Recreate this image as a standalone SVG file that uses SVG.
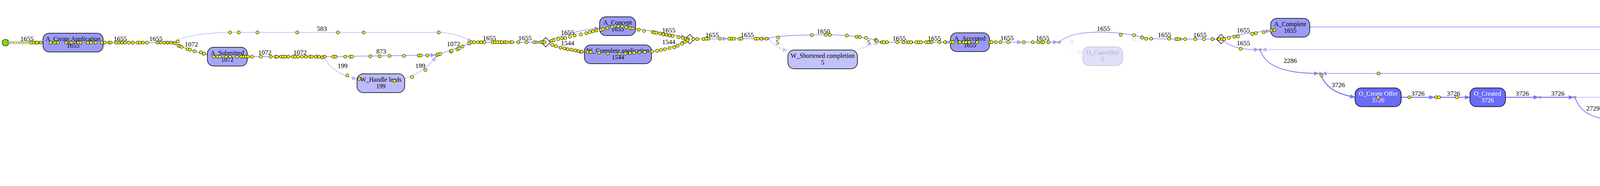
<svg xmlns="http://www.w3.org/2000/svg" width="7419" height="476" viewBox="0 0 7419 476">
<style>
text{font-family:"Liberation Serif","Times New Roman",serif;text-anchor:middle;fill:#000}
.el{font-size:17px}
.nt{font-size:16px}
.wt{fill:#fff}
.box{stroke:#000;stroke-width:1.5}
.e{fill:none}
.c1{stroke:#9e9ef9;stroke-width:2}
.c2{stroke:#b6b6fb;stroke-width:1.5}
.c3{stroke:#8888f8;stroke-width:2.3}
.c4{stroke:#7474f7;stroke-width:2.6}
.c5{stroke:#c6c6fc;stroke-width:1.3}
.c6{stroke:#0000ee;stroke-width:4.5}
.c7{stroke:#eeeefe;stroke-width:1}
.jn{fill:#fff;stroke:#000;stroke-width:1}
.gw{fill:#fff;stroke:#000;stroke-width:1.3}
.tk{fill:#ffff00;stroke:#000;stroke-width:1}
.tf{fill:#ffff00;stroke:#000;stroke-width:1;opacity:0.35}
.fd{fill:#d4d4d4}
</style>
<defs>
<marker id="a1" markerUnits="userSpaceOnUse" viewBox="0 0 12 10" refX="12" refY="5" markerWidth="13" markerHeight="11" orient="auto"><path d="M0,0 L12,5 L0,10 z" fill="#9e9ef9"/></marker>
<marker id="a2" markerUnits="userSpaceOnUse" viewBox="0 0 12 10" refX="12" refY="5" markerWidth="13" markerHeight="11" orient="auto"><path d="M0,0 L12,5 L0,10 z" fill="#b6b6fb"/></marker>
<marker id="a3" markerUnits="userSpaceOnUse" viewBox="0 0 12 10" refX="12" refY="5" markerWidth="13" markerHeight="11" orient="auto"><path d="M0,0 L12,5 L0,10 z" fill="#8888f8"/></marker>
<marker id="a4" markerUnits="userSpaceOnUse" viewBox="0 0 12 10" refX="12" refY="5" markerWidth="13" markerHeight="11" orient="auto"><path d="M0,0 L12,5 L0,10 z" fill="#7474f7"/></marker>
<marker id="a5" markerUnits="userSpaceOnUse" viewBox="0 0 12 10" refX="12" refY="5" markerWidth="13" markerHeight="11" orient="auto"><path d="M0,0 L12,5 L0,10 z" fill="#c6c6fc"/></marker>
<marker id="a6" markerUnits="userSpaceOnUse" viewBox="0 0 12 10" refX="12" refY="5" markerWidth="16" markerHeight="13" orient="auto"><path d="M0,0 L12,5 L0,10 z" fill="#0000ee"/></marker>
<marker id="a7" markerUnits="userSpaceOnUse" viewBox="0 0 12 10" refX="12" refY="5" markerWidth="13" markerHeight="11" orient="auto"><path d="M0,0 L12,5 L0,10 z" fill="#eeeefe"/></marker>
</defs>

<g id="connectors">
<path class="e c1" marker-end="url(#a1)" d="M23,109 L110,109"/>
<path class="e c1" marker-end="url(#a1)" d="M264,109 L349,109"/>
<path class="e c1" marker-end="url(#a1)" d="M355,109 L440,109"/>
<path class="e c2" marker-end="url(#a2)" d="M445,107 C475,90 540,83 589,83 L1123,83 C1160,83 1185,95 1210,107"/>
<path class="e c1" marker-end="url(#a1)" d="M445,111 C470,122 500,134 531,140"/>
<path class="e c1" marker-end="url(#a1)" d="M633,145 L719,145"/>
<path class="e c1" marker-end="url(#a1)" d="M725,145 L824,145"/>
<path class="e c1" marker-end="url(#a1)" d="M830,145 L1115,141"/>
<path class="e c2" marker-end="url(#a2)" d="M829,147 C845,175 875,195 914,202"/>
<path class="e c2" marker-end="url(#a2)" d="M1036,201 C1070,190 1100,170 1116,144"/>
<path class="e c1" marker-end="url(#a1)" d="M1120,140 C1150,130 1180,118 1210,109"/>
<path class="e c1" marker-end="url(#a1)" d="M1216,108 L1295,108"/>
<path class="e c1" marker-end="url(#a1)" d="M1301,108 L1385,108"/>
<path class="e c1" marker-end="url(#a1)" d="M1406,104 C1440,88 1490,76 1535,72"/>
<path class="e c1" marker-end="url(#a1)" d="M1406,112 C1440,126 1470,132 1496,134"/>
<path class="e c1" marker-end="url(#a1)" d="M1627,74 C1680,80 1730,90 1756,96"/>
<path class="e c1" marker-end="url(#a1)" d="M1668,132 C1710,126 1735,115 1756,104"/>
<path class="e c1" marker-end="url(#a1)" d="M1778,100 L1863,99"/>
<path class="e c1" marker-end="url(#a1)" d="M1869,99 L1963,99"/>
<path class="e c1" marker-end="url(#a1)" d="M1968,97 C2000,91 2050,89 2110,89 C2170,89 2220,96 2252,106"/>
<path class="e c5" marker-end="url(#a5)" d="M1968,101 C1980,115 1995,125 2017,130"/>
<path class="e c5" marker-end="url(#a5)" d="M2195,128 C2215,120 2235,113 2252,109"/>
<path class="e c1" marker-end="url(#a1)" d="M2258,108 L2332,108"/>
<path class="e c1" marker-end="url(#a1)" d="M2338,108 L2433,108"/>
<path class="e c1" marker-end="url(#a1)" d="M2533,108 L2617,108"/>
<path class="e c1" marker-end="url(#a1)" d="M2623,108 L2709,108"/>
<path class="e c1" marker-end="url(#a1)" d="M2714,106 C2740,85 2780,82 2825,82 C2870,84 2900,88 2932,98"/>
<path class="e c7" marker-end="url(#a7)" d="M2714,110 C2735,122 2750,130 2772,134"/>
<path class="e c7" marker-end="url(#a7)" d="M2874,125 C2895,115 2915,105 2932,100"/>
<path class="e c1" marker-end="url(#a1)" d="M2938,99 L3021,100"/>
<path class="e c1" marker-end="url(#a1)" d="M3027,100 L3114,100"/>
<path class="e c1" marker-end="url(#a1)" d="M3136,96 C3170,88 3210,82 3253,79"/>
<path class="e c1" marker-end="url(#a1)" d="M3134,106 C3150,118 3170,127 3223,127"/>
<path class="e c1" marker-end="url(#a1)" d="M3353,69 L6372,69 C6410,69 6430,78 6451,86"/>
<path class="e c2" marker-end="url(#a2)" d="M6358,127 L3229,127"/>
<path class="e c3" marker-end="url(#a3)" d="M3227,130 C3240,170 3290,188 3377,188"/>
<path class="e c1" marker-end="url(#a1)" d="M5006,204 C4985,191 4960,188 4920,188 L3383,188"/>
<path class="e c4" marker-end="url(#a4)" d="M3381,191 C3395,225 3420,240 3469,249"/>
<path class="e c4" marker-end="url(#a4)" d="M3587,249 L3672,249"/>
<path class="e c4" marker-end="url(#a4)" d="M3678,249 L3763,249"/>
<path class="e c4" marker-end="url(#a4)" d="M3854,249 L3939,249"/>
<path class="e c4" marker-end="url(#a4)" d="M3945,249 L4029,249"/>
<path class="e c3" marker-end="url(#a3)" d="M4033,252 C4045,285 4070,300 4127,309"/>
<path class="e c2" marker-end="url(#a2)" d="M4035,249 L4904,249"/>
<path class="e c3" marker-end="url(#a3)" d="M4151,311 L4272,311"/>
<path class="e c3" marker-end="url(#a3)" d="M4143,320 C4160,350 4190,368 4242,368"/>
<path class="e c1" marker-end="url(#a1)" d="M4248,368 L4691,368"/>
<path class="e c1" marker-end="url(#a1)" d="M4247,371 C4260,400 4280,414 4330,430 C4380,445 4420,446 4469,446"/>
<path class="e c1" marker-end="url(#a1)" d="M4607,432 C4650,420 4680,400 4692,371"/>
<path class="e c3" marker-end="url(#a3)" d="M4444,311 L4784,310"/>
<path class="e c3" marker-end="url(#a3)" d="M4697,367 C4740,360 4772,342 4789,318"/>
<path class="e c3" marker-end="url(#a3)" d="M4806,306 C4850,295 4885,280 4905,252"/>
<path class="e c4" marker-end="url(#a4)" d="M4910,248 C4950,240 4985,225 5007,208"/>
<path class="e c3" marker-end="url(#a3)" d="M5012,205 L5097,205"/>
<path class="e c3" marker-end="url(#a3)" d="M5103,205 L5187,205"/>
<path class="e c5" marker-end="url(#a5)" d="M5193,203 C5220,190 5250,184 5300,184 L6268,184"/>
<path class="e c1" marker-end="url(#a1)" d="M5192,208 C5210,225 5240,240 5278,251"/>
<path class="e c6" style="stroke-width:3.5" marker-end="url(#a6)" d="M6177,252 L5284,252"/>
<path class="e c6" marker-end="url(#a6)" d="M5282,255 C5300,300 5330,325 5369,347"/>
<path class="e c3" marker-end="url(#a3)" d="M5375,348 C5420,335 5540,322 5649,315"/>
<path class="e c3" marker-end="url(#a3)" d="M5375,351 C5390,362 5420,370 5460,373"/>
<path class="e c4" marker-end="url(#a4)" d="M5373,352 C5380,385 5410,415 5460,430"/>
<path class="e c3" marker-end="url(#a3)" d="M5746,310 C5850,300 5980,305 6086,341"/>
<path class="e c3" marker-end="url(#a3)" d="M5625,374 L5786,374"/>
<path class="e c3" marker-end="url(#a3)" d="M5792,374 L5893,374"/>
<path class="e c4" marker-end="url(#a4)" d="M5624,447 L5786,447"/>
<path class="e c4" marker-end="url(#a4)" d="M5792,447 L5897,447"/>
<path class="e c3" marker-end="url(#a3)" d="M6001,364 C6040,358 6065,352 6086,344"/>
<path class="e c4" marker-end="url(#a4)" d="M5997,426 C6040,405 6070,380 6087,346"/>
<path class="e c6" marker-end="url(#a6)" d="M6091,341 C6120,320 6150,290 6178,255"/>
<path class="e c1" marker-end="url(#a1)" d="M6183,251 C6220,240 6250,215 6269,186"/>
<path class="e c3" marker-end="url(#a3)" d="M6273,182 C6310,175 6340,160 6359,130"/>
<path class="e c1" marker-end="url(#a1)" d="M6364,126 C6400,118 6430,106 6452,96"/>
<path class="e c1" marker-end="url(#a1)" d="M6474,90 L6560,90"/>
<path class="e c1" marker-end="url(#a1)" d="M6566,90 L6650,90"/>
<path class="e c1" marker-end="url(#a1)" d="M6655,88 C6670,65 6700,48 6742,40"/>
<path class="e c5" marker-end="url(#a5)" d="M6656,90 L6867,90"/>
<path class="e c2" marker-end="url(#a2)" d="M6656,91 C6720,115 6800,130 6900,138 L7021,147"/>
<path class="e c1" marker-end="url(#a1)" d="M6842,29 L6991,29"/>
<path class="e c1" marker-end="url(#a1)" d="M6997,29 L7129,29"/>
<path class="e c1" marker-end="url(#a1)" d="M7218,45 C7250,60 7280,75 7302,88"/>
<path class="e c5" marker-end="url(#a5)" d="M6968,90 L7302,90"/>
<path class="e c2" marker-end="url(#a2)" d="M7105,147 C7180,145 7260,125 7302,93"/>
<path class="e c1" marker-end="url(#a1)" d="M7308,90 L7394,90"/>
</g>

<g id="edge-labels" class="el">
<text class="el" x="69" y="105">1655</text>
<text class="el" x="308" y="105">1655</text>
<text class="el" x="399" y="105">1655</text>
<text class="el" x="824" y="79">583</text>
<text class="el" x="490" y="119">1072</text>
<text class="el" x="678" y="140">1072</text>
<text class="el" x="768" y="140">1072</text>
<text class="el" x="976" y="137">873</text>
<text class="el" x="877" y="174">199</text>
<text class="el" x="1076" y="174">199</text>
<text class="el" x="1161" y="118">1072</text>
<text class="el" x="1253" y="103">1655</text>
<text class="el" x="1344" y="103">1655</text>
<text class="el" x="1453" y="89">1655</text>
<text class="el" x="1453" y="116">1544</text>
<text class="el" x="1712" y="83">1655</text>
<text class="el" x="1712" y="113">1544</text>
<text class="el" x="1823" y="95">1655</text>
<text class="el" x="1913" y="95">1655</text>
<text class="el" x="2108" y="86">1650</text>
<text class="el" x="1990" y="114">5</text>
<text class="el" x="2224" y="114">5</text>
<text class="el" x="2302" y="104">1655</text>
<text class="el" x="2392" y="104">1655</text>
<text class="el" x="2578" y="103">1655</text>
<text class="el" x="2669" y="103">1655</text>
<text class="el" x="2825" y="79">1655</text>
<text class="el fd" x="2744" y="113">0</text>
<text class="el fd" x="2903" y="106">0</text>
<text class="el" x="2981" y="95">1655</text>
<text class="el" x="3072" y="95">1655</text>
<text class="el" x="3183" y="83">1655</text>
<text class="el" x="3183" y="116">1655</text>
<text class="el" x="4967" y="64">1655</text>
<text class="el" x="4940" y="122">631</text>
<text class="el" x="3303" y="161">2286</text>
<text class="el" x="4140" y="183">1440</text>
<text class="el" x="3426" y="223">3726</text>
<text class="el" x="3630" y="245">3726</text>
<text class="el" x="3721" y="245">3726</text>
<text class="el" x="3897" y="245">3726</text>
<text class="el" x="3988" y="245">3726</text>
<text class="el" x="4078" y="283">2729</text>
<text class="el" x="4538" y="244">997</text>
<text class="el" x="4200" y="306">2729</text>
<text class="el" x="4200" y="355">2729</text>
<text class="el" x="4539" y="363">1101</text>
<text class="el" x="4359" y="402">1628</text>
<text class="el" x="4651" y="402">1628</text>
<text class="el" x="4650" y="306">2729</text>
<text class="el" x="4740" y="344">2729</text>
<text class="el" x="4851" y="283">2729</text>
<text class="el" x="4966" y="223">3726</text>
<text class="el" x="5055" y="201">2286</text>
<text class="el" x="5146" y="201">2286</text>
<text class="el" x="5791" y="179">16</text>
<text class="el" x="5237" y="218">2270</text>
<text class="el" x="5790" y="247">6160</text>
<text class="el" x="5327" y="285">8430</text>
<text class="el" x="5418" y="331">2201</text>
<text class="el" x="5418" y="358">2485</text>
<text class="el" x="5418" y="389">3744</text>
<text class="el" x="5851" y="302">2201</text>
<text class="el" x="5698" y="369">2485</text>
<text class="el" x="5851" y="369">2485</text>
<text class="el" x="5698" y="441">3744</text>
<text class="el" x="5851" y="441">3744</text>
<text class="el" x="6044" y="347">2485</text>
<text class="el" x="6044" y="379">3744</text>
<text class="el" x="6136" y="285">8430</text>
<text class="el" x="6226" y="218">2270</text>
<text class="el" x="6317" y="160">2286</text>
<text class="el" x="6409" y="103">1655</text>
<text class="el" x="6519" y="86">1655</text>
<text class="el" x="6610" y="86">1655</text>
<text class="el" x="6701" y="44">1461</text>
<text class="el" x="6699" y="86">44</text>
<text class="el" x="6793" y="111">150</text>
<text class="el" x="6919" y="25">1461</text>
<text class="el" x="7065" y="25">1461</text>
<text class="el" x="7264" y="50">1461</text>
<text class="el" x="7064" y="86">44</text>
<text class="el" x="7175" y="129">150</text>
<text class="el" x="7354" y="86">1655</text>
</g>

<g id="junctions">
<circle class="jn" cx="352" cy="109" r="2.5"/>
<circle class="jn" cx="443" cy="109" r="2.5"/>
<circle class="jn" cx="722" cy="145" r="2.5"/>
<circle class="jn" cx="827" cy="145" r="2.5"/>
<circle class="jn" cx="1118" cy="141" r="2.5"/>
<circle class="jn" cx="1213" cy="108" r="2.5"/>
<circle class="jn" cx="1298" cy="108" r="2.5"/>
<circle class="jn" cx="1866" cy="99" r="2.5"/>
<circle class="jn" cx="1966" cy="99" r="2.5"/>
<circle class="jn" cx="2255" cy="108" r="2.5"/>
<circle class="jn" cx="2335" cy="108" r="2.5"/>
<circle class="jn" cx="2620" cy="108" r="2.5"/>
<circle class="jn" cx="2712" cy="108" r="2.5"/>
<circle class="jn" cx="2935" cy="99" r="2.5"/>
<circle class="jn" cx="3024" cy="100" r="2.5"/>
<circle class="jn" cx="3226" cy="127" r="2.5"/>
<circle class="jn" cx="3380" cy="188" r="2.5"/>
<circle class="jn" cx="3675" cy="249" r="2.5"/>
<circle class="jn" cx="3942" cy="249" r="2.5"/>
<circle class="jn" cx="4032" cy="249" r="2.5"/>
<circle class="jn" cx="4245" cy="368" r="2.5"/>
<circle class="jn" cx="4694" cy="368" r="2.5"/>
<circle class="jn" cx="4907" cy="249" r="2.5"/>
<circle class="jn" cx="5009" cy="205" r="2.5"/>
<circle class="jn" cx="5100" cy="205" r="2.5"/>
<circle class="jn" cx="5190" cy="205" r="2.5"/>
<circle class="jn" cx="5281" cy="252" r="2.5"/>
<circle class="jn" cx="5372" cy="349" r="2.5"/>
<circle class="jn" cx="5789" cy="374" r="2.5"/>
<circle class="jn" cx="5789" cy="447" r="2.5"/>
<circle class="jn" cx="6089" cy="343" r="2.5"/>
<circle class="jn" cx="6180" cy="252" r="2.5"/>
<circle class="jn" cx="6271" cy="184" r="2.5"/>
<circle class="jn" cx="6361" cy="127" r="2.5"/>
<circle class="jn" cx="6563" cy="90" r="2.5"/>
<circle class="jn" cx="6653" cy="90" r="2.5"/>
<circle class="jn" cx="6994" cy="29" r="2.5"/>
<circle class="jn" cx="7305" cy="90" r="2.5"/>
</g>

<g id="gateways">
<path class="gw" d="M1397,96 L1409,108 L1397,120 L1385,108 Z"/>
<path class="gw" d="M1766,88 L1778,100 L1766,112 L1754,100 Z"/>
<path class="gw" d="M3126,88 L3138,100 L3126,112 L3114,100 Z"/>
<g><path class="gw" d="M4139,299 L4151,311 L4139,323 L4127,311 Z"/><path d="M4133,311 H4145 M4139,305 V317" stroke="#000" stroke-width="1"/></g>
<g><path class="gw" d="M4796,298 L4808,310 L4796,322 L4784,310 Z"/><path d="M4790,310 H4802 M4796,304 V316" stroke="#000" stroke-width="1"/></g>
<g><path class="gw" d="M6462,78 L6474,90 L6462,102 L6450,90 Z"/><path d="M6456,90 H6468 M6462,84 V96" stroke="#000" stroke-width="1"/></g>
</g>

<g id="start"><circle cx="14" cy="109" r="8.5" fill="#7fe000" stroke="#000" stroke-width="1.2"/></g>
<g id="end"><circle cx="7403" cy="90" r="9" fill="#e00000" stroke="#000" stroke-width="1.2"/></g>

<g id="A_Create_Application"><rect class="box" x="110" y="85" width="154" height="48" rx="16" fill="#9b9bf7"/><text class="nt" x="187" y="105">A_Create Application</text><text class="nt" x="187" y="122">1655</text></g>
<g id="A_Submitted"><rect class="box" x="531" y="121" width="102" height="48" rx="16" fill="#a6a6f9"/><text class="nt" x="582" y="141">A_Submitted</text><text class="nt" x="582" y="158">1072</text></g>
<g id="W_Handle_leads"><rect class="box" x="914" y="189" width="122" height="48" rx="16" fill="#bbbbfb"/><text class="nt" x="975" y="209">W_Handle leads</text><text class="nt" x="975" y="226">199</text></g>
<g id="A_Concept"><rect class="box" x="1535" y="43" width="92" height="48" rx="16" fill="#9b9bf7"/><text class="nt" x="1581" y="63">A_Concept</text><text class="nt" x="1581" y="80">1655</text></g>
<g id="W_Complete_application"><rect class="box" x="1496" y="115" width="172" height="48" rx="16" fill="#9d9df7"/><text class="nt" x="1582" y="135">W_Complete application</text><text class="nt" x="1582" y="152">1544</text></g>
<g id="W_Shortened_completion"><rect class="box" x="2017" y="128" width="178" height="48" rx="16" fill="#c2c2fb"/><text class="nt" x="2106" y="148">W_Shortened completion</text><text class="nt" x="2106" y="165">5</text></g>
<g id="A_Accepted"><rect class="box" x="2433" y="84" width="100" height="48" rx="16" fill="#9b9bf7"/><text class="nt" x="2483" y="104">A_Accepted</text><text class="nt" x="2483" y="121">1655</text></g>
<g id="O_Cancelled"><rect x="2772" y="120" width="102" height="48" rx="16" fill="#e0e0fc" stroke="#c4c4c4" stroke-width="1.5"/><text class="nt fd" x="2823" y="140" style="fill:#b4b4b4">O_Cancelled</text><text class="nt" x="2823" y="157" style="fill:#b4b4b4">0</text></g>
<g id="A_Complete"><rect class="box" x="3253" y="47" width="100" height="48" rx="16" fill="#9b9bf7"/><text class="nt" x="3303" y="67">A_Complete</text><text class="nt" x="3303" y="84">1655</text></g>
<g id="O_Create_Offer"><rect class="box" x="3469" y="225" width="118" height="48" rx="16" fill="#6b6bf7"/><text class="nt wt" x="3528" y="245">O_Create Offer</text><text class="nt wt" x="3528" y="262">3726</text></g>
<g id="O_Created"><rect class="box" x="3763" y="225" width="91" height="48" rx="16" fill="#6b6bf7"/><text class="nt wt" x="3808" y="245">O_Created</text><text class="nt wt" x="3808" y="262">3726</text></g>
<g id="O_Sent"><rect class="box" x="4272" y="287" width="172" height="48" rx="16" fill="#8080f8"/><text class="nt" x="4358" y="307">O_Sent (mail and online)</text><text class="nt" x="4358" y="324">2729</text></g>
<g id="W_Call_after_offers"><rect class="box" x="4469" y="416" width="138" height="48" rx="16" fill="#9b9bf7"/><text class="nt" x="4538" y="436">W_Call after offers</text><text class="nt" x="4538" y="453">1628</text></g>
<g id="O_Returned"><rect class="box" x="5649" y="289" width="97" height="48" rx="16" fill="#8a8af8"/><text class="nt" x="5697" y="309">O_Returned</text><text class="nt" x="5697" y="326">2201</text></g>
<g id="W_Call_incomplete_files"><rect class="box" x="5460" y="351" width="165" height="48" rx="16" fill="#8484f8"/><text class="nt" x="5542" y="371">W_Call incomplete files</text><text class="nt" x="5542" y="388">2485</text></g>
<g id="W_Validate_application"><rect class="box" x="5460" y="423" width="164" height="48" rx="16" fill="#6b6bf7"/><text class="nt wt" x="5542" y="443">W_Validate application</text><text class="nt wt" x="5542" y="460">3744</text></g>
<g id="A_Incomplete"><rect class="box" x="5893" y="351" width="108" height="48" rx="16" fill="#8484f8"/><text class="nt" x="5947" y="371">A_Incomplete</text><text class="nt" x="5947" y="388">2485</text></g>
<g id="A_Validating"><rect class="box" x="5897" y="423" width="100" height="48" rx="16" fill="#6b6bf7"/><text class="nt wt" x="5947" y="443">A_Validating</text><text class="nt wt" x="5947" y="460">3744</text></g>
<g id="O_Accepted"><rect class="box" x="6742" y="5" width="100" height="48" rx="16" fill="#a0a0f8"/><text class="nt" x="6792" y="25">O_Accepted</text><text class="nt" x="6792" y="42">1461</text></g>
<g id="A_Pending"><rect class="box" x="7129" y="5" width="89" height="48" rx="16" fill="#a0a0f8"/><text class="nt" x="7173" y="25">A_Pending</text><text class="nt" x="7173" y="42">1461</text></g>
<g id="A_Cancelled"><rect class="box" x="6867" y="67" width="101" height="48" rx="16" fill="#bebefb"/><text class="nt" x="6917" y="87">A_Cancelled</text><text class="nt" x="6917" y="104">44</text></g>
<g id="A_Denied"><rect class="box" x="7021" y="123" width="84" height="48" rx="16" fill="#bcbcfb"/><text class="nt" x="7063" y="143">A_Denied</text><text class="nt" x="7063" y="160">150</text></g>

<g id="tokens">
<circle class="tf" cx="22" cy="109" r="4"/><circle class="tf" cx="30" cy="109" r="4"/><circle class="tf" cx="38" cy="109" r="4"/><circle class="tf" cx="46" cy="109" r="4"/><circle class="tf" cx="52" cy="109" r="4"/><circle class="tf" cx="58" cy="109" r="4"/><circle class="tf" cx="64" cy="109" r="4"/><circle class="tf" cx="70" cy="109" r="4"/>
<circle class="tk" cx="79" cy="109" r="4"/><circle class="tk" cx="86" cy="109" r="4"/><circle class="tk" cx="92" cy="109" r="4"/><circle class="tk" cx="95" cy="109" r="4"/><circle class="tk" cx="104" cy="109" r="4"/>
<circle class="tk" cx="130" cy="109" r="4"/><circle class="tk" cx="140" cy="109" r="4"/><circle class="tk" cx="148" cy="109" r="4"/><circle class="tk" cx="169" cy="109" r="4"/><circle class="tk" cx="180" cy="109" r="4"/><circle class="tk" cx="183" cy="109" r="4"/><circle class="tk" cx="200" cy="109" r="4"/><circle class="tk" cx="206" cy="109" r="4"/><circle class="tk" cx="225" cy="109" r="4"/><circle class="tk" cx="233" cy="109" r="4"/><circle class="tk" cx="245" cy="109" r="4"/><circle class="tk" cx="261" cy="109" r="4"/><circle class="tk" cx="269" cy="109" r="4"/><circle class="tk" cx="280" cy="109" r="4"/><circle class="tk" cx="283" cy="109" r="4"/>
<circle class="tk" cx="297" cy="109" r="4"/><circle class="tk" cx="304" cy="109" r="4"/><circle class="tk" cx="312" cy="109" r="4"/><circle class="tk" cx="320" cy="109" r="4"/><circle class="tk" cx="330" cy="109" r="4"/><circle class="tk" cx="340" cy="109" r="4"/><circle class="tk" cx="352" cy="109" r="4"/><circle class="tk" cx="358" cy="109" r="4"/><circle class="tk" cx="366" cy="109" r="4"/><circle class="tk" cx="376" cy="109" r="4"/><circle class="tk" cx="403" cy="109" r="4"/><circle class="tk" cx="411" cy="109" r="4"/><circle class="tk" cx="421" cy="109" r="4"/><circle class="tk" cx="429" cy="109" r="4"/><circle class="tk" cx="437" cy="109" r="4"/>
<circle class="tk" cx="447" cy="111" r="4"/><circle class="tk" cx="457" cy="117" r="4"/><circle class="tk" cx="461" cy="118" r="4"/><circle class="tk" cx="465" cy="120" r="4"/><circle class="tk" cx="480" cy="126" r="4"/><circle class="tk" cx="486" cy="127" r="4"/><circle class="tk" cx="498" cy="131" r="4"/><circle class="tk" cx="514" cy="134" r="4"/><circle class="tk" cx="522" cy="137" r="4"/>
<circle class="tk" cx="455" cy="106" r="4"/><circle class="tk" cx="589" cy="83" r="4"/><circle class="tk" cx="611" cy="83" r="4"/><circle class="tk" cx="659" cy="83" r="4"/><circle class="tk" cx="761" cy="83" r="4"/><circle class="tk" cx="865" cy="83" r="4"/><circle class="tk" cx="931" cy="83" r="4"/><circle class="tk" cx="1123" cy="83" r="4"/>
<circle class="tk" cx="547" cy="145" r="4"/><circle class="tk" cx="557" cy="145" r="4"/><circle class="tk" cx="563" cy="145" r="4"/><circle class="tk" cx="579" cy="145" r="4"/><circle class="tk" cx="589" cy="145" r="4"/><circle class="tk" cx="607" cy="145" r="4"/><circle class="tk" cx="618" cy="145" r="4"/><circle class="tk" cx="624" cy="145" r="4"/><circle class="tk" cx="630" cy="145" r="4"/><circle class="tk" cx="635" cy="145" r="4"/><circle class="tk" cx="645" cy="145" r="4"/><circle class="tk" cx="668" cy="145" r="4"/><circle class="tk" cx="693" cy="145" r="4"/><circle class="tk" cx="705" cy="145" r="4"/><circle class="tk" cx="709" cy="145" r="4"/><circle class="tk" cx="719" cy="145" r="4"/><circle class="tk" cx="725" cy="145" r="4"/><circle class="tk" cx="730" cy="145" r="4"/><circle class="tk" cx="738" cy="145" r="4"/><circle class="tk" cx="750" cy="145" r="4"/><circle class="tk" cx="756" cy="145" r="4"/><circle class="tk" cx="763" cy="145" r="4"/><circle class="tk" cx="773" cy="145" r="4"/><circle class="tk" cx="783" cy="145" r="4"/><circle class="tk" cx="793" cy="145" r="4"/><circle class="tk" cx="798" cy="145" r="4"/><circle class="tk" cx="808" cy="145" r="4"/><circle class="tk" cx="817" cy="145" r="4"/><circle class="tk" cx="825" cy="147" r="4"/><circle class="tk" cx="831" cy="145" r="4"/><circle class="tk" cx="853" cy="145" r="4"/><circle class="tk" cx="859" cy="145" r="4"/><circle class="tk" cx="884" cy="145" r="4"/><circle class="tk" cx="897" cy="145" r="4"/><circle class="tk" cx="901" cy="145" r="4"/><circle class="tk" cx="948" cy="144" r="4"/><circle class="tk" cx="972" cy="144" r="4"/><circle class="tk" cx="997" cy="143" r="4"/><circle class="tk" cx="1034" cy="143" r="4"/><circle class="tk" cx="1072" cy="142" r="4"/><circle class="tk" cx="1077" cy="142" r="4"/><circle class="tk" cx="1094" cy="142" r="4"/>
<circle class="tk" cx="889" cy="193" r="4"/><circle class="tk" cx="920" cy="202" r="4"/><circle class="tk" cx="1010" cy="207" r="4"/><circle class="tk" cx="1055" cy="197" r="4"/><circle class="tk" cx="1089" cy="179" r="4"/>
<circle class="tk" cx="1118" cy="141" r="4"/><circle class="tk" cx="1122" cy="139" r="4"/><circle class="tk" cx="1127" cy="138" r="4"/><circle class="tk" cx="1154" cy="132" r="4"/><circle class="tk" cx="1156" cy="130" r="4"/><circle class="tk" cx="1171" cy="126" r="4"/><circle class="tk" cx="1175" cy="124" r="4"/><circle class="tk" cx="1184" cy="119" r="4"/><circle class="tk" cx="1201" cy="111" r="4"/><circle class="tk" cx="1207" cy="108" r="4"/><circle class="tk" cx="1214" cy="108" r="4"/>
<circle class="tk" cx="1224" cy="108" r="4"/><circle class="tk" cx="1232" cy="108" r="4"/><circle class="tk" cx="1240" cy="108" r="4"/><circle class="tk" cx="1261" cy="108" r="4"/><circle class="tk" cx="1267" cy="108" r="4"/><circle class="tk" cx="1273" cy="108" r="4"/><circle class="tk" cx="1279" cy="108" r="4"/><circle class="tk" cx="1285" cy="108" r="4"/><circle class="tk" cx="1293" cy="108" r="4"/><circle class="tk" cx="1297" cy="108" r="4"/><circle class="tk" cx="1307" cy="108" r="4"/><circle class="tk" cx="1311" cy="108" r="4"/><circle class="tk" cx="1327" cy="108" r="4"/><circle class="tk" cx="1348" cy="108" r="4"/><circle class="tk" cx="1368" cy="108" r="4"/><circle class="tk" cx="1384" cy="108" r="4"/><circle class="tk" cx="1390" cy="108" r="4"/><circle class="tk" cx="1394" cy="108" r="4"/>
<circle class="tk" cx="1412" cy="104" r="4"/><circle class="tk" cx="1417" cy="103" r="4"/><circle class="tk" cx="1429" cy="100" r="4"/><circle class="tk" cx="1439" cy="98" r="4"/><circle class="tk" cx="1447" cy="97" r="4"/><circle class="tk" cx="1459" cy="94" r="4"/><circle class="tk" cx="1471" cy="91" r="4"/><circle class="tk" cx="1487" cy="88" r="4"/><circle class="tk" cx="1501" cy="85" r="4"/><circle class="tk" cx="1510" cy="82" r="4"/><circle class="tk" cx="1518" cy="80" r="4"/><circle class="tk" cx="1527" cy="78" r="4"/><circle class="tk" cx="1539" cy="76" r="4"/><circle class="tk" cx="1544" cy="75" r="4"/><circle class="tk" cx="1555" cy="72" r="4"/><circle class="tk" cx="1567" cy="69" r="4"/><circle class="tk" cx="1583" cy="67" r="4"/><circle class="tk" cx="1593" cy="68" r="4"/><circle class="tk" cx="1603" cy="70" r="4"/><circle class="tk" cx="1614" cy="72" r="4"/><circle class="tk" cx="1619" cy="73" r="4"/><circle class="tk" cx="1635" cy="76" r="4"/><circle class="tk" cx="1649" cy="79" r="4"/><circle class="tk" cx="1671" cy="82" r="4"/><circle class="tk" cx="1675" cy="83" r="4"/><circle class="tk" cx="1680" cy="84" r="4"/><circle class="tk" cx="1690" cy="86" r="4"/><circle class="tk" cx="1698" cy="88" r="4"/><circle class="tk" cx="1706" cy="89" r="4"/><circle class="tk" cx="1714" cy="91" r="4"/><circle class="tk" cx="1722" cy="92" r="4"/><circle class="tk" cx="1737" cy="95" r="4"/><circle class="tk" cx="1748" cy="97" r="4"/><circle class="tk" cx="1756" cy="99" r="4"/><circle class="tk" cx="1761" cy="100" r="4"/>
<circle class="tk" cx="1414" cy="115" r="4"/><circle class="tk" cx="1423" cy="118" r="4"/><circle class="tk" cx="1435" cy="122" r="4"/><circle class="tk" cx="1445" cy="124" r="4"/><circle class="tk" cx="1453" cy="126" r="4"/><circle class="tk" cx="1463" cy="127" r="4"/><circle class="tk" cx="1473" cy="129" r="4"/><circle class="tk" cx="1481" cy="131" r="4"/><circle class="tk" cx="1489" cy="132" r="4"/><circle class="tk" cx="1504" cy="133" r="4"/><circle class="tk" cx="1512" cy="133" r="4"/><circle class="tk" cx="1534" cy="135" r="4"/><circle class="tk" cx="1556" cy="137" r="4"/><circle class="tk" cx="1586" cy="138" r="4"/><circle class="tk" cx="1601" cy="137" r="4"/><circle class="tk" cx="1613" cy="136" r="4"/><circle class="tk" cx="1623" cy="135" r="4"/><circle class="tk" cx="1637" cy="134" r="4"/><circle class="tk" cx="1651" cy="133" r="4"/><circle class="tk" cx="1669" cy="132" r="4"/><circle class="tk" cx="1682" cy="130" r="4"/><circle class="tk" cx="1692" cy="128" r="4"/><circle class="tk" cx="1702" cy="126" r="4"/><circle class="tk" cx="1714" cy="123" r="4"/><circle class="tk" cx="1726" cy="121" r="4"/><circle class="tk" cx="1735" cy="117" r="4"/><circle class="tk" cx="1746" cy="112" r="4"/><circle class="tk" cx="1754" cy="107" r="4"/><circle class="tk" cx="1760" cy="103" r="4"/>
<circle class="tk" cx="1775" cy="100" r="4"/><circle class="tk" cx="1785" cy="100" r="4"/><circle class="tk" cx="1801" cy="100" r="4"/><circle class="tk" cx="1808" cy="99" r="4"/><circle class="tk" cx="1814" cy="99" r="4"/><circle class="tk" cx="1843" cy="99" r="4"/><circle class="tk" cx="1867" cy="99" r="4"/><circle class="tk" cx="1873" cy="99" r="4"/><circle class="tk" cx="1879" cy="99" r="4"/><circle class="tk" cx="1893" cy="99" r="4"/><circle class="tk" cx="1898" cy="99" r="4"/><circle class="tk" cx="1934" cy="99" r="4"/><circle class="tk" cx="1940" cy="99" r="4"/><circle class="tk" cx="1949" cy="99" r="4"/><circle class="tk" cx="1962" cy="99" r="4"/>
<circle class="tk" cx="1992" cy="96" r="4"/><circle class="tk" cx="2078" cy="90" r="4"/><circle class="tk" cx="2114" cy="89" r="4"/><circle class="tk" cx="2124" cy="89" r="4"/><circle class="tk" cx="2168" cy="91" r="4"/><circle class="tk" cx="2193" cy="94" r="4"/><circle class="tk" cx="2201" cy="95" r="4"/><circle class="tk" cx="2217" cy="97" r="4"/><circle class="tk" cx="2242" cy="102" r="4"/><circle class="tk" cx="2244" cy="104" r="4"/>
<circle class="tk" cx="2259" cy="108" r="4"/><circle class="tk" cx="2263" cy="108" r="4"/><circle class="tk" cx="2271" cy="108" r="4"/><circle class="tk" cx="2297" cy="108" r="4"/><circle class="tk" cx="2313" cy="108" r="4"/><circle class="tk" cx="2326" cy="108" r="4"/><circle class="tk" cx="2332" cy="108" r="4"/><circle class="tk" cx="2346" cy="108" r="4"/><circle class="tk" cx="2352" cy="108" r="4"/><circle class="tk" cx="2358" cy="108" r="4"/><circle class="tk" cx="2371" cy="108" r="4"/><circle class="tk" cx="2377" cy="108" r="4"/><circle class="tk" cx="2385" cy="108" r="4"/><circle class="tk" cx="2405" cy="108" r="4"/><circle class="tk" cx="2419" cy="108" r="4"/>
<circle class="tk" cx="2434" cy="108" r="4"/><circle class="tk" cx="2440" cy="108" r="4"/><circle class="tk" cx="2455" cy="108" r="4"/><circle class="tk" cx="2457" cy="108" r="4"/><circle class="tk" cx="2467" cy="108" r="4"/><circle class="tk" cx="2473" cy="108" r="4"/><circle class="tk" cx="2481" cy="108" r="4"/><circle class="tk" cx="2501" cy="108" r="4"/><circle class="tk" cx="2534" cy="108" r="4"/><circle class="tk" cx="2538" cy="108" r="4"/><circle class="tk" cx="2549" cy="108" r="4"/><circle class="tk" cx="2561" cy="108" r="4"/><circle class="tk" cx="2581" cy="108" r="4"/><circle class="tk" cx="2621" cy="108" r="4"/><circle class="tk" cx="2644" cy="108" r="4"/><circle class="tk" cx="2658" cy="108" r="4"/><circle class="tk" cx="2667" cy="108" r="4"/><circle class="tk" cx="2671" cy="108" r="4"/><circle class="tk" cx="2684" cy="108" r="4"/>
<circle class="tk" cx="2869" cy="89" r="4"/><circle class="tk" cx="2903" cy="90" r="4"/><circle class="tk" cx="2924" cy="96" r="4"/><circle class="tk" cx="2934" cy="99" r="4"/><circle class="tk" cx="2947" cy="99" r="4"/><circle class="tk" cx="2993" cy="99" r="4"/><circle class="tk" cx="3012" cy="100" r="4"/><circle class="tk" cx="3017" cy="100" r="4"/><circle class="tk" cx="3034" cy="100" r="4"/><circle class="tk" cx="3060" cy="100" r="4"/><circle class="tk" cx="3082" cy="100" r="4"/><circle class="tk" cx="3104" cy="100" r="4"/><circle class="tk" cx="3121" cy="100" r="4"/><circle class="tk" cx="3129" cy="100" r="4"/><circle class="tk" cx="3134" cy="100" r="4"/>
<circle class="tk" cx="3146" cy="97" r="4"/><circle class="tk" cx="3160" cy="94" r="4"/><circle class="tk" cx="3169" cy="93" r="4"/><circle class="tk" cx="3206" cy="87" r="4"/><circle class="tk" cx="3215" cy="85" r="4"/><circle class="tk" cx="3235" cy="82" r="4"/><circle class="tk" cx="3255" cy="78" r="4"/><circle class="tk" cx="3263" cy="77" r="4"/><circle class="tk" cx="3176" cy="125" r="4"/>
<circle class="tk" cx="3529" cy="188" r="4"/><circle class="tk" cx="3383" cy="193" r="4"/><circle class="tk" cx="3528" cy="249" r="4"/><circle class="tk" cx="3608" cy="249" r="4"/><circle class="tk" cx="3677" cy="249" r="4"/><circle class="tk" cx="3684" cy="249" r="4"/><circle class="tk" cx="3730" cy="249" r="4"/><circle class="tk" cx="4106" cy="307" r="4"/><circle class="tk" cx="4315" cy="311" r="4"/>
<circle class="tk" cx="5614" cy="447" r="4"/><circle class="tk" cx="5673" cy="447" r="4"/>
<circle class="tk" cx="6479" cy="90" r="4"/><circle class="tk" cx="6526" cy="91" r="4"/><circle class="tk" cx="6576" cy="91" r="4"/><circle class="tk" cx="6628" cy="91" r="4"/><circle class="tk" cx="6633" cy="91" r="4"/><circle class="tk" cx="6729" cy="43" r="4"/><circle class="tk" cx="6758" cy="37" r="4"/><circle class="tk" cx="6775" cy="33" r="4"/>
<circle class="tk" cx="6872" cy="29" r="4"/><circle class="tk" cx="6913" cy="29" r="4"/><circle class="tk" cx="6974" cy="29" r="4"/><circle class="tk" cx="6982" cy="29" r="4"/><circle class="tk" cx="7146" cy="29" r="4"/><circle class="tk" cx="7164" cy="29" r="4"/><circle class="tk" cx="7204" cy="39" r="4"/><circle class="tk" cx="7208" cy="41" r="4"/><circle class="tk" cx="7279" cy="71" r="4"/><circle class="tk" cx="7302" cy="87" r="4"/><circle class="tk" cx="7310" cy="90" r="4"/><circle class="tk" cx="7057" cy="147" r="4"/>
</g>
</svg>
